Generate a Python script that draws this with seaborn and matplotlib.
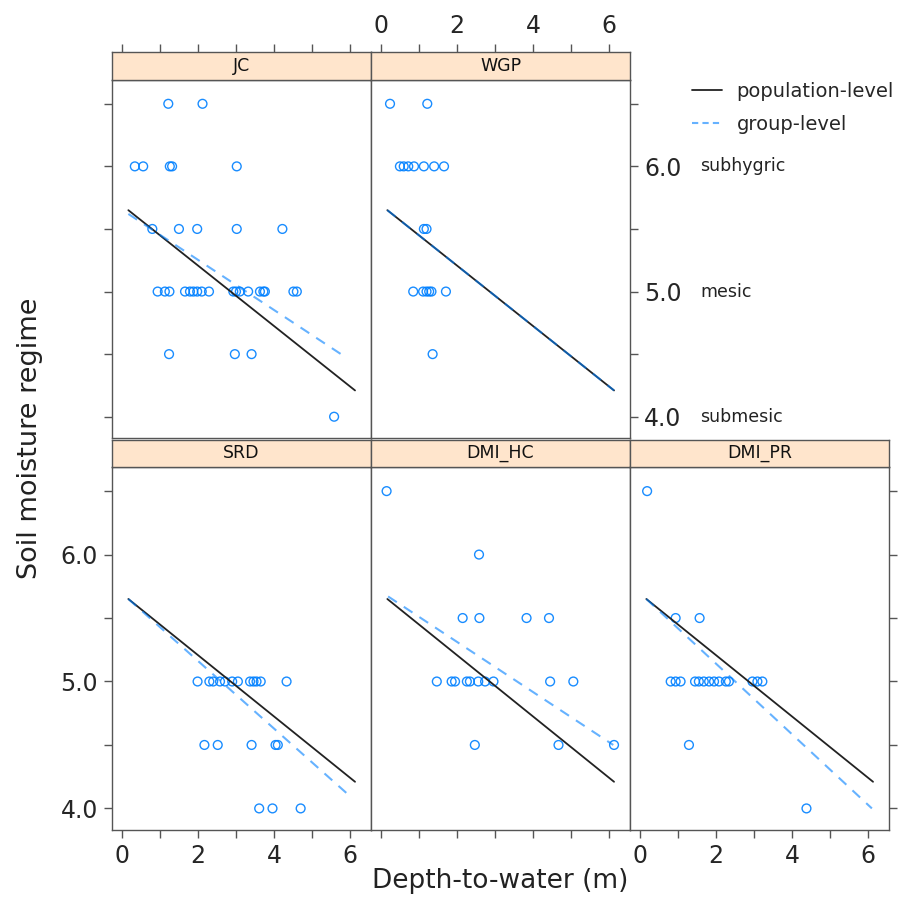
import numpy as np
import pandas as pd
import seaborn as sns
import matplotlib.pyplot as plt
import matplotlib.transforms as mtransforms
from matplotlib.lines import Line2D

sns.set_style("white")
plt.rcParams['font.family'] = ['DejaVu Sans']

# ---- data ----
panels = ['JC', 'WGP', 'SRD', 'DMI_HC', 'DMI_PR']

jc_x = [1.22, 2.12,
        0.34, 0.56, 1.26, 1.32, 3.02,
        0.80, 1.50, 1.98, 3.02, 4.22,
        0.94, 1.13, 1.25, 1.66, 1.79, 1.88, 1.98, 2.10, 2.29, 2.93, 3.00, 3.10,
        3.32, 3.63, 3.72, 3.76, 4.51, 4.60,
        1.24, 2.97, 3.41,
        5.58]
jc_y = [6.5] * 2 + [6.0] * 5 + [5.5] * 5 + [5.0] * 18 + [4.5] * 3 + [4.0]

wgp_x = [0.24, 1.22,
         0.50, 0.60, 0.72, 0.87, 1.13, 1.40, 1.66,
         1.13, 1.20,
         0.85, 1.11, 1.20, 1.27, 1.33, 1.71,
         1.36]
wgp_y = [6.5] * 2 + [6.0] * 7 + [5.5] * 2 + [5.0] * 6 + [4.5]

srd_x = [1.99, 2.30, 2.40, 2.58, 2.71, 2.90, 3.05, 3.37, 3.46, 3.54, 3.65, 4.33,
         2.17, 2.52, 3.41, 4.04, 4.10,
         3.61, 3.96, 4.70]
srd_y = [5.0] * 12 + [4.5] * 5 + [4.0] * 3

hc_x = [0.15,
        2.58,
        2.15, 2.59, 3.83, 4.42,
        1.47, 1.86, 1.95, 2.26, 2.34, 2.56, 2.74, 2.96, 4.45, 5.06,
        2.47, 4.67, 6.13]
hc_y = [6.5] + [6.0] + [5.5] * 4 + [5.0] * 10 + [4.5] * 3

pr_x = [0.19,
        0.94, 1.57,
        0.81, 0.94, 1.07, 1.45, 1.55, 1.68, 1.82, 1.95, 2.08, 2.26, 2.34, 2.96, 3.09, 3.22,
        1.29,
        4.38]
pr_y = [6.5] + [5.5] * 2 + [5.0] * 14 + [4.5] + [4.0]

# population-level fit (same in every panel)
pop_x = [0.17, 6.13]
pop_y = [5.65, 4.21]

# group-level fits: start / end per panel
grp_x0 = [0.17, 0.17, 0.17, 0.19, 0.17]
grp_y0 = [5.62, 5.65, 5.65, 5.67, 5.65]
grp_x1 = [5.91, 6.13, 5.91, 6.11, 6.10]
grp_y1 = [4.47, 4.21, 4.12, 4.50, 4.00]

moisture_levels = [4.0, 5.0, 6.0]
moisture_names = ['submesic', 'mesic', 'subhygric']

pts = pd.concat([
    pd.DataFrame({'site': s, 'depth': x, 'smr': y})
    for s, x, y in zip(panels, [jc_x, wgp_x, srd_x, hc_x, pr_x],
                       [jc_y, wgp_y, srd_y, hc_y, pr_y])
])

# ---- layout (lattice-like) ----
W, H = 922, 924
fig = plt.figure(figsize=(W / 100, H / 100), dpi=100)

col_left = [112, 371, 630]
pw = 259
# (left px, panel top px, panel bottom px, strip top px)
pos = {
    'JC': (col_left[0], 80, 438, 52),
    'WGP': (col_left[1], 80, 438, 52),
    'SRD': (col_left[0], 467, 830, 440),
    'DMI_HC': (col_left[1], 467, 830, 440),
    'DMI_PR': (col_left[2], 467, 830, 440),
}

xlim = (-0.26, 6.55)
ylim = (3.83, 6.69)
xt = [0, 1, 2, 3, 4, 5, 6]
xtl = ['0', '', '2', '', '4', '', '6']
yt = [4.0, 4.5, 5.0, 5.5, 6.0, 6.5]
ytl = ['4.0', '', '5.0', '', '6.0', '']

edge = '#555555'
blue = '#0080ff'
tick_kw = dict(direction='out', length=6, width=1, color=edge,
               labelsize=17, pad=4)

for i, name in enumerate(panels):
    l, t, b, st = pos[name]
    ax = fig.add_axes([l / W, 1 - b / H, pw / W, (b - t) / H])
    sax = fig.add_axes([l / W, 1 - t / H, pw / W, (t - st) / H], sharex=ax)

    d = pts[pts['site'] == name]
    sns.scatterplot(data=d, x='depth', y='smr', ax=ax, marker='o',
                    facecolors='none', edgecolor=blue, linewidth=1.0,
                    s=40, alpha=0.9, legend=False)
    sns.lineplot(x=pop_x, y=pop_y, ax=ax, color='#222222', lw=1.3)
    sns.lineplot(x=[grp_x0[i], grp_x1[i]], y=[grp_y0[i], grp_y1[i]], ax=ax,
                 color=blue, lw=1.5, alpha=0.6, dashes=False,
                 linestyle=(0, (5, 4)))

    ax.set_xlim(*xlim)
    ax.set_ylim(*ylim)
    ax.set_xlabel('')
    ax.set_ylabel('')
    for sp in ax.spines.values():
        sp.set_color(edge)
        sp.set_linewidth(1)
    ax.set_xticks(xt)
    ax.set_yticks(yt)
    ax.tick_params(axis='both', which='both', bottom=False, top=False,
                   left=False, right=False, labelbottom=False,
                   labelleft=False, labeltop=False, labelright=False)
    ax.tick_params(**tick_kw)

    # strip
    sax.set_facecolor('#ffe5cc')
    for sp in sax.spines.values():
        sp.set_color(edge)
        sp.set_linewidth(1)
    sax.set_yticks([])
    sax.tick_params(axis='x', which='both', bottom=False, top=False,
                    labelbottom=False, labeltop=False)
    sax.text(0.5, 0.5, name, transform=sax.transAxes, ha='center',
             va='center', fontsize=12.5, color='#111111')

    if name == 'JC':
        ax.tick_params(axis='y', left=True)
        sax.tick_params(axis='x', top=True, **tick_kw)
    if name == 'WGP':
        sax.tick_params(axis='x', top=True, labeltop=True, **tick_kw)
        sax.set_xticklabels(xtl)
        ax.tick_params(axis='y', right=True, labelright=True)
        ax.set_yticklabels(ytl)
        tr = mtransforms.blended_transform_factory(ax.transAxes, ax.transData)
        for lev, lab in zip(moisture_levels, moisture_names):
            ax.text(1.27, lev, lab, transform=tr, ha='left', va='center',
                    fontsize=12.5, color='#222222')
    if name == 'SRD':
        ax.tick_params(axis='y', left=True, labelleft=True)
        ax.set_yticklabels(ytl)
        ax.tick_params(axis='x', bottom=True, labelbottom=True)
        ax.set_xticklabels(xtl)
    if name == 'DMI_HC':
        ax.tick_params(axis='x', bottom=True)
    if name == 'DMI_PR':
        ax.tick_params(axis='x', bottom=True, labelbottom=True)
        ax.set_xticklabels(xtl)
        ax.tick_params(axis='y', right=True)

fig.text(500 / W, 1 - 881 / H, 'Depth-to-water (m)', ha='center',
         va='center', fontsize=19, color='#222222')
fig.text(30 / W, 1 - 438 / H, 'Soil moisture regime', ha='center',
         va='center', rotation=90, fontsize=19.5, color='#222222')

handles = [Line2D([], [], color='#222222', lw=1.3),
           Line2D([], [], color=blue, lw=1.5, alpha=0.6, linestyle=(0, (3, 2)))]
fig.legend(handles, ['population-level', 'group-level'],
           loc='upper left', bbox_to_anchor=(692 / W, 1 - 82 / H),
           frameon=False, fontsize=14, handlelength=1.55,
           handletextpad=0.75, labelspacing=0.7, borderaxespad=0,
           borderpad=0)

fig.savefig('out.png', dpi=100)
